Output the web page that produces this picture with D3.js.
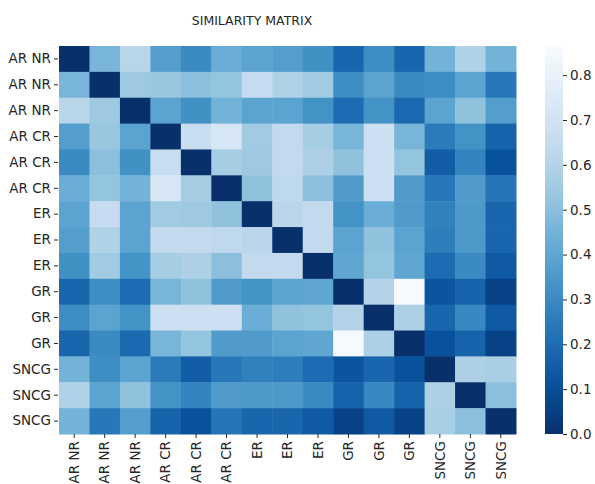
<!DOCTYPE html>
<html>
<head>
<meta charset="utf-8">
<script src="https://cdn.jsdelivr.net/npm/d3@7/dist/d3.min.js"></script>
<style>
  html, body { margin: 0; padding: 0; background: #fff; }
  text { font-family: "DejaVu Sans", sans-serif; fill: #262626; }
</style>
</head>
<body>
<svg id="chart" width="595" height="484"></svg>
<script>
const title = "SIMILARITY MATRIX";
const labels = ["AR NR","AR NR","AR NR","AR CR","AR CR","AR CR","ER","ER","ER","GR","GR","GR","SNCG","SNCG","SNCG"];
const values = [
  [0.00,0.46,0.61,0.37,0.30,0.43,0.39,0.37,0.32,0.18,0.31,0.18,0.45,0.59,0.45],
  [0.46,0.00,0.54,0.53,0.50,0.52,0.65,0.59,0.55,0.31,0.39,0.30,0.31,0.39,0.24],
  [0.61,0.54,0.00,0.39,0.32,0.45,0.39,0.39,0.33,0.20,0.33,0.19,0.39,0.51,0.37],
  [0.37,0.53,0.39,0.00,0.66,0.72,0.55,0.64,0.56,0.46,0.68,0.46,0.25,0.33,0.17],
  [0.30,0.50,0.32,0.66,0.00,0.56,0.54,0.64,0.58,0.51,0.68,0.52,0.15,0.28,0.11],
  [0.43,0.52,0.45,0.72,0.56,0.00,0.51,0.63,0.50,0.36,0.68,0.36,0.24,0.36,0.23],
  [0.39,0.65,0.39,0.55,0.54,0.51,0.00,0.62,0.64,0.33,0.43,0.36,0.27,0.35,0.18],
  [0.37,0.59,0.39,0.64,0.64,0.63,0.62,0.00,0.64,0.39,0.51,0.39,0.26,0.35,0.18],
  [0.32,0.55,0.33,0.56,0.58,0.50,0.64,0.64,0.00,0.40,0.52,0.40,0.20,0.30,0.14],
  [0.18,0.31,0.20,0.46,0.51,0.36,0.33,0.39,0.40,0.00,0.60,0.86,0.12,0.17,0.06],
  [0.31,0.39,0.33,0.68,0.68,0.68,0.43,0.51,0.52,0.60,0.00,0.58,0.18,0.29,0.14],
  [0.18,0.30,0.19,0.46,0.52,0.36,0.36,0.39,0.40,0.86,0.58,0.00,0.11,0.17,0.06],
  [0.45,0.31,0.39,0.25,0.15,0.24,0.27,0.26,0.20,0.12,0.18,0.11,0.00,0.58,0.57],
  [0.59,0.39,0.51,0.33,0.28,0.36,0.35,0.35,0.30,0.17,0.29,0.17,0.58,0.00,0.50],
  [0.45,0.24,0.37,0.17,0.11,0.23,0.18,0.18,0.14,0.06,0.14,0.06,0.57,0.50,0.00]
];
const colorbarTicks = [0.0,0.1,0.2,0.3,0.4,0.5,0.6,0.7,0.8];
const vmin = 0, vmax = 0.865;
// matplotlib "Blues" anchors (reversed for Blues_r)
const bluesAnchors = ["#f7fbff","#deebf7","#c6dbef","#9ecae1","#6baed6","#4292c6","#2171b5","#08519c","#08306b"];

const svg = d3.select("#chart");
const plot = {left: 59, top: 46, right: 516, bottom: 434};
const idx = d3.range(labels.length);

const x = d3.scaleBand().domain(idx).range([plot.left, plot.right]).padding(0);
const y = d3.scaleBand().domain(idx).range([plot.top, plot.bottom]).padding(0);

const blues = d3.piecewise(d3.interpolateRgb, bluesAnchors);
const color = d3.scaleSequential(t => blues(1 - t)).domain([vmin, vmax]);

// cells
const rows = svg.append("g");
values.forEach((row, i) => {
  rows.selectAll(null).data(row).enter().append("rect")
    .attr("x", (d, j) => x(j))
    .attr("y", y(i))
    .attr("width", x.bandwidth() + 0.5)
    .attr("height", y.bandwidth() + 0.5)
    .attr("fill", d => color(d));
});

// axes
const yAxis = d3.axisLeft(y).tickSize(4).tickPadding(3).tickFormat(i => labels[i]);
const gy = svg.append("g").attr("transform", `translate(${plot.left - 1},0)`).call(yAxis);
gy.select(".domain").remove();
gy.selectAll("text").style("font-size", "13.5px").attr("fill", "#262626");
gy.selectAll("line").attr("stroke", "#262626");

const xAxis = d3.axisBottom(x).tickSize(4).tickPadding(3).tickFormat(i => labels[i]);
const gx = svg.append("g").attr("transform", `translate(0,${plot.bottom})`).call(xAxis);
gx.select(".domain").remove();
gx.selectAll("line").attr("stroke", "#262626");
gx.selectAll("text")
  .style("font-size", "13.5px").attr("fill", "#262626")
  .attr("transform", "rotate(-90)")
  .attr("text-anchor", "end")
  .attr("x", -7).attr("y", 0).attr("dy", "0.35em");

// title
svg.append("text").attr("x", 252).attr("y", 25).attr("text-anchor", "middle")
  .style("font-size", "12.5px").text(title);

// colorbar
const cb = {x: 545, w: 18, top: 46, bottom: 434};
const defs = svg.append("defs");
const grad = defs.append("linearGradient").attr("id", "cbgrad")
  .attr("x1", 0).attr("y1", 1).attr("x2", 0).attr("y2", 0);
d3.range(0, 1.0001, 0.05).forEach(t => {
  grad.append("stop").attr("offset", t).attr("stop-color", color(vmin + t * (vmax - vmin)));
});
svg.append("rect").attr("x", cb.x).attr("y", cb.top).attr("width", cb.w)
  .attr("height", cb.bottom - cb.top).attr("fill", "url(#cbgrad)");
const cbScale = d3.scaleLinear().domain([vmin, vmax]).range([cb.bottom, cb.top]);
const cbAxis = d3.axisRight(cbScale).tickValues(colorbarTicks).tickSize(4).tickPadding(3).tickFormat(d3.format(".1f"));
const gcb = svg.append("g").attr("transform", `translate(${cb.x + cb.w},0)`).call(cbAxis);
gcb.select(".domain").remove();
gcb.selectAll("line").attr("stroke", "#262626");
gcb.selectAll("text").style("font-size", "13.5px").attr("fill", "#262626");
</script>
</body>
</html>
